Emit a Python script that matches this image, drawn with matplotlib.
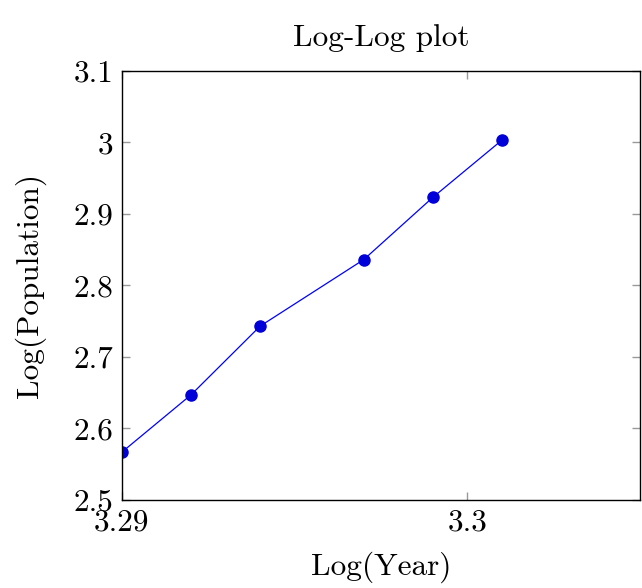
import numpy as np
import matplotlib
matplotlib.use('Agg')
import matplotlib.pyplot as plt
from matplotlib.ticker import FuncFormatter

plt.rcParams['font.family'] = 'serif'
plt.rcParams['font.serif'] = ['cmr10']
plt.rcParams['mathtext.fontset'] = 'cm'
plt.rcParams['axes.formatter.use_mathtext'] = True

log_year = [3.2900, 3.2920, 3.2940, 3.2970, 3.2990, 3.3010]
log_pop = [2.567, 2.647, 2.743, 2.836, 2.923, 3.003]
xticks = [3.29, 3.30]
yticks = [2.5, 2.6, 2.7, 2.8, 2.9, 3.0, 3.1]

fig = plt.figure(figsize=(6.42, 5.88), dpi=100)
ax = fig.add_axes([0.190, 0.1497, 0.807, 0.730])
ax.plot(log_year, log_pop, color='blue', lw=0.9, marker='o', ms=8,
        markerfacecolor=(0, 0, 0.85), markeredgecolor=(0, 0, 0.85))

ax.set_xlim(3.29, 3.305)
ax.set_ylim(2.5, 3.1)
ax.set_xticks(xticks)
ax.set_yticks(yticks)
fmt = FuncFormatter(lambda v, p: ('%g' % round(v, 3)))
ax.xaxis.set_major_formatter(fmt)
ax.yaxis.set_major_formatter(fmt)
ax.tick_params(direction='in', length=6, color='#999999', width=1,
               labelsize=22.5, top=True, right=True, pad=6)
for s in ax.spines.values():
    s.set_linewidth(1)

ax.set_title('Log-Log plot', fontsize=22.5, pad=18)
ax.set_xlabel('Log(Year)', fontsize=22.5, labelpad=11)
ax.set_ylabel('Log(Population)', fontsize=22.5, labelpad=20)

fig.savefig('out.png', dpi=100)
